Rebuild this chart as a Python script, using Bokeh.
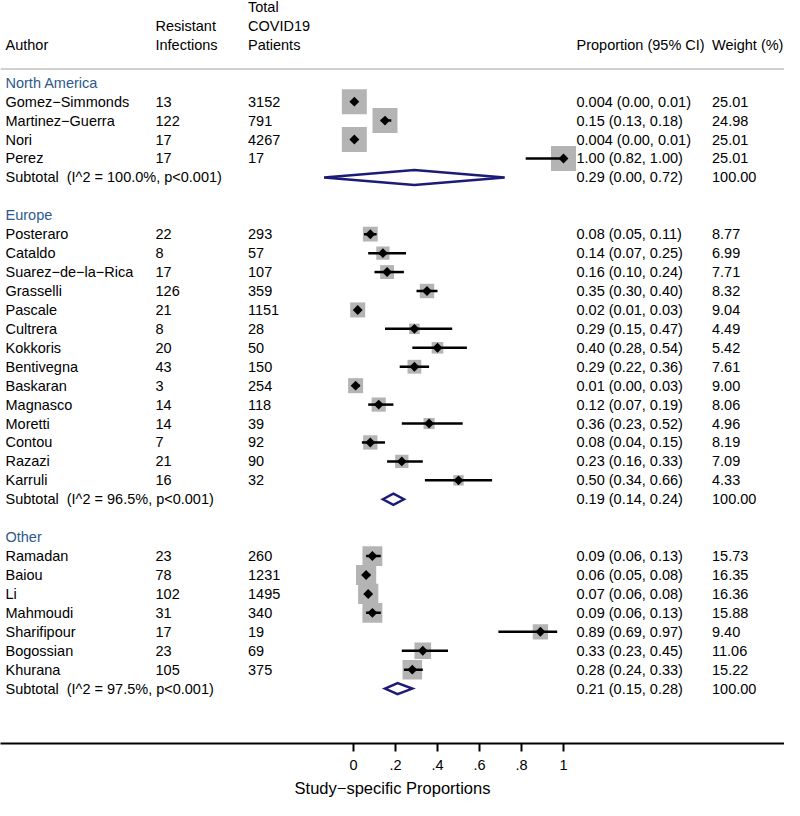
import numpy as np
from bokeh.plotting import figure
from bokeh.models import Range1d, Span, FixedTicker, ColumnDataSource
from bokeh.core.properties import value
from bokeh.embed import file_html
from bokeh.resources import INLINE

# ---------------- data ----------------
group_names = ["North America", "Europe", "Other"]

na_authors = ["Gomez\u2212Simmonds", "Martinez\u2212Guerra", "Nori", "Perez"]
na_resistant = [13, 122, 17, 17]
na_total = [3152, 791, 4267, 17]
na_est = [0.004, 0.15, 0.004, 1.00]
na_lo = [0.00, 0.13, 0.00, 0.82]
na_hi = [0.01, 0.18, 0.01, 1.00]
na_weight = [25.01, 24.98, 25.01, 25.01]

eu_authors = ["Posteraro", "Cataldo", "Suarez\u2212de\u2212la\u2212Rica", "Grasselli", "Pascale",
              "Cultrera", "Kokkoris", "Bentivegna", "Baskaran", "Magnasco", "Moretti",
              "Contou", "Razazi", "Karruli"]
eu_resistant = [22, 8, 17, 126, 21, 8, 20, 43, 3, 14, 14, 7, 21, 16]
eu_total = [293, 57, 107, 359, 1151, 28, 50, 150, 254, 118, 39, 92, 90, 32]
eu_est = [0.08, 0.14, 0.16, 0.35, 0.02, 0.29, 0.40, 0.29, 0.01, 0.12, 0.36, 0.08, 0.23, 0.50]
eu_lo = [0.05, 0.07, 0.10, 0.30, 0.01, 0.15, 0.28, 0.22, 0.00, 0.07, 0.23, 0.04, 0.16, 0.34]
eu_hi = [0.11, 0.25, 0.24, 0.40, 0.03, 0.47, 0.54, 0.36, 0.03, 0.19, 0.52, 0.15, 0.33, 0.66]
eu_weight = [8.77, 6.99, 7.71, 8.32, 9.04, 4.49, 5.42, 7.61, 9.00, 8.06, 4.96, 8.19, 7.09, 4.33]

ot_authors = ["Ramadan", "Baiou", "Li", "Mahmoudi", "Sharifipour", "Bogossian", "Khurana"]
ot_resistant = [23, 78, 102, 31, 17, 23, 105]
ot_total = [260, 1231, 1495, 340, 19, 69, 375]
ot_est = [0.09, 0.06, 0.07, 0.09, 0.89, 0.33, 0.28]
ot_lo = [0.06, 0.05, 0.06, 0.06, 0.69, 0.23, 0.24]
ot_hi = [0.13, 0.08, 0.08, 0.13, 0.97, 0.45, 0.33]
ot_weight = [15.73, 16.35, 16.36, 15.88, 9.40, 11.06, 15.22]

sub_est = [0.29, 0.19, 0.21]
sub_lo = [-0.14, 0.14, 0.15]     # diamond lower bound (shown truncated at 0)
sub_hi = [0.72, 0.24, 0.28]
sub_i2 = [100.0, 96.5, 97.5]
sub_weight = [100.00, 100.00, 100.00]

tick_values = [0, 0.2, 0.4, 0.6, 0.8, 1.0]
tick_labels = ["0", ".2", ".4", ".6", ".8", "1"]

# ---------------- layout ----------------
FONT = value("Liberation Sans")
FS = "14.5px"
NAVY = "#1b1b78"
BLUE = "#2b5a8c"
BOX = "#b4b4b4"

PX_PER_UNIT = 210.0     # screen px per proportion unit
ZERO_PX = 353.0         # frame px of proportion 0
FRAME_W = 784
FRAME_H = 743
TOP_PAD = 6.5
AXIS_ROW_PAD = 2.9
DIAMOND_HALF_PX = [7.5, 5.5, 5.5]


def col(px):
    return (px - ZERO_PX) / PX_PER_UNIT


X_AUTHOR = col(5)
X_RES = col(155)
X_TOT = col(247.5)
X_PROP = col(576)
X_WEIGHT = col(711.5)


def fmt(v):
    v = max(v, 0.0)
    return f"{v:.3f}" if 0 < v < 0.005 else f"{v:.2f}"


groups = [
    (na_authors, na_resistant, na_total, na_est, na_lo, na_hi, na_weight),
    (eu_authors, eu_resistant, eu_total, eu_est, eu_lo, eu_hi, eu_weight),
    (ot_authors, ot_resistant, ot_total, ot_est, ot_lo, ot_hi, ot_weight),
]

n_rows_total = sum(len(g[0]) + 3 for g in groups) - 1
last_row = n_rows_total - 1
y_bottom = last_row + AXIS_ROW_PAD
row_px = (FRAME_H - TOP_PAD) / (y_bottom + 4)
y_top = y_bottom - FRAME_H / row_px

st = dict(y=[], name=[], res=[], tot=[], est=[], lo=[], hi=[], w=[], prop=[], wt=[], size=[])
hdr = dict(y=[], text=[])
sub = dict(y=[], text=[], prop=[], wt=[], xs=[], ys=[])

row = 0
for gi, (a, r, t, e, lo, hi, w) in enumerate(groups):
    hdr["y"].append(row)
    hdr["text"].append(group_names[gi])
    row += 1
    for i in range(len(a)):
        st["y"].append(row)
        st["name"].append(a[i])
        st["res"].append(str(r[i]))
        st["tot"].append(str(t[i]))
        st["est"].append(e[i])
        st["lo"].append(lo[i])
        st["hi"].append(hi[i])
        st["w"].append(w[i])
        st["prop"].append(f"{fmt(e[i])} ({fmt(lo[i])}, {fmt(hi[i])})")
        st["wt"].append(f"{w[i]:.2f}")
        st["size"].append(5.0 * np.sqrt(w[i]))
        row += 1
    h = DIAMOND_HALF_PX[gi] / row_px
    sub["y"].append(row)
    sub["text"].append(f"Subtotal\u00a0 (I^2 = {sub_i2[gi]:.1f}%, p<0.001)")
    sub["prop"].append(f"{fmt(sub_est[gi])} ({fmt(sub_lo[gi])}, {fmt(sub_hi[gi])})")
    sub["wt"].append(f"{sub_weight[gi]:.2f}")
    sub["xs"].append([sub_lo[gi], sub_est[gi], sub_hi[gi], sub_est[gi]])
    sub["ys"].append([row, row - h, row, row + h])
    row += 2

p = figure(frame_width=FRAME_W, frame_height=FRAME_H,
           x_range=Range1d(col(0), col(FRAME_W)),
           y_range=Range1d(y_bottom, y_top),
           output_backend="svg", toolbar_location=None,
           y_axis_location=None, min_border=0)
p.outline_line_color = None
p.grid.visible = False
p.background_fill_color = "white"
p.border_fill_color = "white"

# axis
ax = p.xaxis[0]
ax.ticker = FixedTicker(ticks=tick_values)
ax.major_label_overrides = {v: l for v, l in zip(tick_values, tick_labels)}
ax.axis_line_width = 2
ax.axis_line_color = "black"
ax.major_tick_line_width = 2
ax.major_tick_line_color = "black"
ax.major_tick_in = 0
ax.major_tick_out = 8
ax.minor_tick_line_color = None
ax.major_label_text_font = "Liberation Sans"
ax.major_label_text_font_size = FS
ax.major_label_text_color = "black"
ax.major_label_standoff = 8
ax.axis_label = "Study\u2212specific Proportions"
ax.axis_label_text_font = "Liberation Sans"
ax.axis_label_text_font_size = "16.5px"
ax.axis_label_text_font_style = "normal"
ax.axis_label_text_color = "black"
ax.axis_label_standoff = 6

# header separator
p.add_layout(Span(location=-0.72, dimension="width", line_color="#c0c0c0", line_width=1.5))

# column headers
head_x = [X_AUTHOR, X_RES, X_RES, X_TOT, X_TOT, X_TOT, X_PROP, X_WEIGHT]
head_y = [-2, -3, -2, -4, -3, -2, -2, -2]
head_t = ["Author", "Resistant", "Infections", "Total", "COVID19", "Patients",
          "Proportion (95% CI)", "Weight (%)"]
p.text(x=head_x, y=head_y, text=head_t, text_font=FONT, text_font_size=FS,
       text_baseline="middle", text_align="left", text_color="black")

# group headers
p.text(x=[X_AUTHOR] * len(hdr["y"]), y=hdr["y"], text=hdr["text"], text_font=FONT,
       text_font_size=FS, text_baseline="middle", text_align="left", text_color=BLUE)

src = ColumnDataSource(st)
for xcol, field in [(X_AUTHOR, "name"), (X_RES, "res"), (X_TOT, "tot"),
                    (X_PROP, "prop"), (X_WEIGHT, "wt")]:
    p.text(x=xcol, y="y", text=field, source=src, text_font=FONT, text_font_size=FS,
           text_baseline="middle", text_align="left", text_color="black")

ssrc = ColumnDataSource(sub)
for xcol, field in [(X_AUTHOR, "text"), (X_PROP, "prop"), (X_WEIGHT, "wt")]:
    p.text(x=xcol, y="y", text=field, source=ssrc, text_font=FONT, text_font_size=FS,
           text_baseline="middle", text_align="left", text_color="black")

# boxes, CIs, point estimates
p.scatter(x="est", y="y", size="size", marker="square", source=src,
          fill_color=BOX, line_color=None)
p.segment(x0="lo", y0="y", x1="hi", y1="y", source=src, line_color="black", line_width=2.5)
p.scatter(x="est", y="y", size=7, marker="square", angle=np.pi / 4, source=src,
          fill_color="black", line_color=None)

# subtotal diamonds
p.patches(xs="xs", ys="ys", source=ssrc, fill_color="white", line_color=NAVY,
          line_width=2.5, line_join="miter")

open("out.html", "w").write(file_html(p, INLINE))
